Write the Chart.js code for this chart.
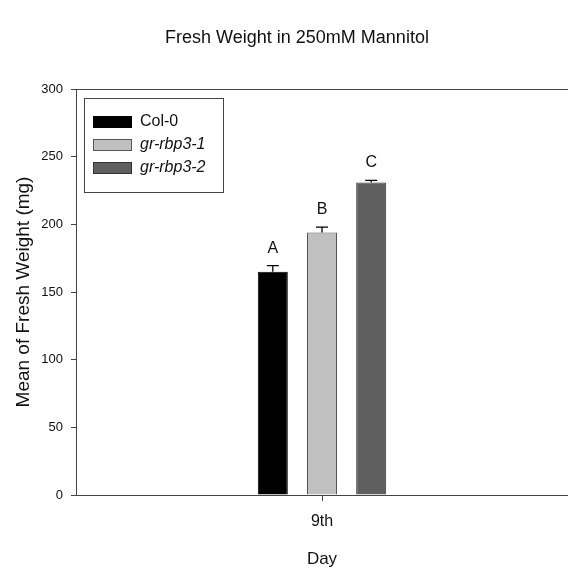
<!DOCTYPE html>
<html lang="en">
<head>
    <meta charset="UTF-8">
    <title>Fresh Weight in 250mM Mannitol</title>
    <script src="https://cdn.jsdelivr.net/npm/chart.js"></script>
    <style>
        body {
            margin: 0;
            padding: 0;
            background-color: #fff;
        }
        canvas {
            display: block;
        }
    </style>
</head>
<body>
    <canvas id="freshChart" width="568" height="571"></canvas>
    <script>
        // data
        const days = ['9th'];
        const lines = ['Col-0', 'gr-rbp3-1', 'gr-rbp3-2'];
        const meanWeight = [165, 194, 231];
        const errWeight = [4.5, 4, 1.5];
        const groupLetters = ['A', 'B', 'C'];
        const yTicks = [0, 50, 100, 150, 200, 250, 300];

        const fills = ['#000000', '#c0c0c0', '#5f5f5f'];
        const borders = ['#000000', '#555555', '#333333'];
        const italicLabel = [false, true, true];
        const FONT = "'Liberation Sans', Arial, sans-serif";

        // error bars, letters, legend, title, top frame line
        const extras = {
            id: 'extras',
            afterDatasetsDraw(chart) {
                const ctx = chart.ctx;
                const yScale = chart.scales.y;
                const area = chart.chartArea;
                ctx.save();

                chart.data.datasets.forEach((ds, i) => {
                    const bar = chart.getDatasetMeta(i).data[0];
                    const v = ds.data[0];
                    const yTop = yScale.getPixelForValue(v + errWeight[i]);
                    const yBar = yScale.getPixelForValue(v);
                    ctx.strokeStyle = '#000';
                    ctx.lineWidth = 1.3;
                    ctx.beginPath();
                    ctx.moveTo(bar.x, yBar);
                    ctx.lineTo(bar.x, yTop);
                    ctx.moveTo(bar.x - 6, yTop);
                    ctx.lineTo(bar.x + 6, yTop);
                    ctx.stroke();

                    ctx.fillStyle = '#111';
                    ctx.font = '16px ' + FONT;
                    ctx.textAlign = 'center';
                    ctx.textBaseline = 'alphabetic';
                    ctx.fillText(groupLetters[i], bar.x, yTop - 13);
                });

                // top frame line
                ctx.strokeStyle = '#444';
                ctx.lineWidth = 1;
                ctx.beginPath();
                ctx.moveTo(area.left, area.top + 0.5);
                ctx.lineTo(area.right, area.top + 0.5);
                ctx.stroke();

                // legend box
                const lx = area.left + 8, ly = area.top + 9;
                ctx.strokeStyle = '#444';
                ctx.strokeRect(lx + 0.5, ly + 0.5, 139, 94);
                chart.data.datasets.forEach((ds, i) => {
                    const cy = ly + 24 + i * 23;
                    ctx.fillStyle = ds.backgroundColor;
                    ctx.fillRect(lx + 9, cy - 6, 39, 12);
                    ctx.strokeStyle = ds.borderColor;
                    ctx.strokeRect(lx + 9.5, cy - 5.5, 38, 11);
                    ctx.fillStyle = '#111';
                    ctx.font = (italicLabel[i] ? 'italic ' : '') + '16px ' + FONT;
                    ctx.textAlign = 'left';
                    ctx.textBaseline = 'middle';
                    ctx.fillText(ds.label, lx + 56, cy);
                });

                // chart title
                ctx.fillStyle = '#111';
                ctx.font = '18px ' + FONT;
                ctx.textAlign = 'center';
                ctx.textBaseline = 'middle';
                ctx.fillText('Fresh Weight in 250mM Mannitol', 297, 38);
                ctx.restore();
            }
        };

        new Chart(document.getElementById('freshChart').getContext('2d'), {
            type: 'bar',
            data: {
                labels: days,
                datasets: lines.map((name, i) => ({
                    label: name,
                    data: [meanWeight[i]],
                    backgroundColor: fills[i],
                    borderColor: borders[i],
                    borderWidth: 1,
                    categoryPercentage: 0.3,
                    barPercentage: 0.61
                }))
            },
            options: {
                responsive: false,
                animation: false,
                layout: { padding: { top: 89, left: 0, right: 0, bottom: 0 } },
                plugins: {
                    legend: { display: false },
                    tooltip: { enabled: false }
                },
                scales: {
                    x: {
                        afterFit: s => { s.height = 76; },
                        grid: { drawOnChartArea: false, offset: false, tickLength: 6, color: '#444' },
                        border: { color: '#444' },
                        ticks: { color: '#111', padding: 11, font: { family: FONT, size: 16 } },
                        title: {
                            display: true,
                            text: 'Day',
                            color: '#111',
                            padding: { top: 0, bottom: 1 },
                            font: { family: FONT, size: 17 }
                        }
                    },
                    y: {
                        min: 0,
                        max: 300,
                        afterFit: s => { s.width = 76; },
                        afterBuildTicks: s => { s.ticks = yTicks.map(v => ({ value: v })); },
                        grid: { drawOnChartArea: false, tickLength: 5, color: '#444' },
                        border: { color: '#444' },
                        ticks: { color: '#111', padding: 8, font: { family: FONT, size: 13 } },
                        title: {
                            display: true,
                            text: 'Mean of Fresh Weight (mg)',
                            color: '#111',
                            padding: { top: 12, bottom: 0 },
                            font: { family: FONT, size: 19 }
                        }
                    }
                }
            },
            plugins: [extras]
        });
    </script>
</body>
</html>
